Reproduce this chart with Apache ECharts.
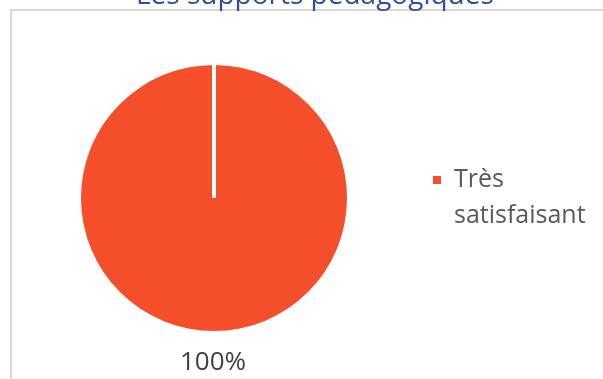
<!DOCTYPE html>
<html>
<head>
<meta charset="utf-8">
<script src="https://cdn.jsdelivr.net/npm/echarts@6/dist/echarts.min.js"></script>
<style>
html,body{margin:0;padding:0;background:#fff;}
#chart{width:603px;height:379px;}
</style>
</head>
<body>
<div id="chart"></div>
<script>
var titleText = 'Les supports pédagogiques';
var categories = ['Très satisfaisant'];
var values = [100];
var colors = ['#f44e2a'];

var cx = 214, cy = 198, r = 133;

var chart = echarts.init(document.getElementById('chart'), null, {renderer: 'canvas'});
chart.setOption({
  backgroundColor: '#ffffff',
  animation: false,
  title: {
    text: titleText,
    left: 136,
    top: -18,
    padding: 0,
    textStyle: {fontFamily: 'Open Sans', fontSize: 28, fontWeight: 'normal', color: '#2f4e9e'}
  },
  legend: {
    orient: 'vertical',
    left: 433,
    top: 126,
    padding: 0,
    icon: 'rect',
    itemWidth: 8,
    itemHeight: 8,
    data: categories,
    formatter: function (name) { return '\n' + name; },
    textStyle: {
      fontFamily: 'Open Sans', fontSize: 25, color: '#595959',
      width: 140, overflow: 'break', lineHeight: 36,
      padding: [0, 0, 0, 8]
    }
  },
  graphic: [
    {type: 'rect', z: -1, silent: true, shape: {x: 11, y: 10, width: 640, height: 420},
     style: {fill: 'none', stroke: '#d9d9d9', lineWidth: 2}},
    {type: 'line', z: 100, silent: true, shape: {x1: cx, y1: cy - r - 1, x2: cx, y2: cy},
     style: {stroke: '#ffffff', lineWidth: 4}}
  ],
  series: [{
    type: 'pie',
    center: [cx, cy],
    radius: r,
    startAngle: 90,
    clockwise: true,
    color: colors,
    data: categories.map(function (c, i) { return {name: c, value: values[i]}; }),
    label: {
      show: true,
      position: 'outside',
      formatter: '{d}%',
      fontFamily: 'Open Sans',
      fontSize: 26,
      color: '#404040'
    },
    labelLine: {show: false},
    labelLayout: function (p) {
      return {
        x: p.rect.x + p.rect.width / 2 - 1,
        y: p.rect.y + p.rect.height + 32,
        align: 'center',
        verticalAlign: 'middle'
      };
    },
    emphasis: {disabled: true}
  }]
});
</script>
</body>
</html>
